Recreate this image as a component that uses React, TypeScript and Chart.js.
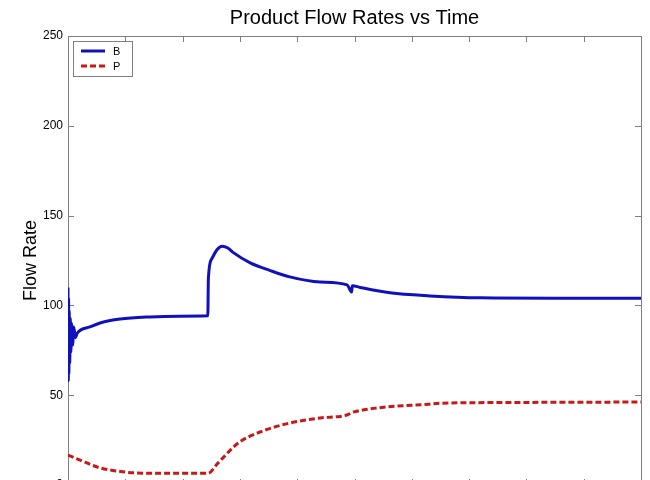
import React, { useEffect, useRef } from "react";
import { Chart, registerables } from "chart.js";

Chart.register(...registerables);

const FONT = "'Liberation Sans', Arial, Helvetica, sans-serif";

const chartTitle = "Product Flow Rates vs Time";
const yAxisTitle = "Flow Rate";
const xTickMin = 0;
const xTickMax = 10;
const xTickStep = 1;
const yTickMin = 0;
const yTickMax = 250;
const yTickStep = 50;

const seriesNames = ["B", "P"];

const timeB = [0, 0.005, 0.01, 0.015, 0.02, 0.03, 0.04, 0.05, 0.06, 0.08, 0.1, 0.13, 0.16, 0.38, 0.56, 0.91, 1.43, 1.95, 2.44, 2.45, 2.51, 2.6, 2.69, 2.79, 2.88, 3.18, 3.53, 3.87, 4.4, 4.87, 4.95, 4.96, 5.1, 5.62, 6.32, 7.19, 8.5, 10];
const flowB = [110, 58, 104, 62, 97, 68, 93, 74, 90, 78, 88, 82, 84.5, 88, 90.2, 92.4, 93.6, 94, 94.2, 115, 126, 131, 133, 132, 129.5, 123.7, 119.4, 115.9, 113, 111.4, 107.5, 111, 110, 107, 105.3, 104.2, 104, 104];

const timeP = [0, 0.2, 0.56, 0.85, 1.14, 1.72, 2.44, 2.62, 2.97, 3.35, 3.87, 4.4, 4.87, 4.97, 5.15, 5.57, 6.3, 6.49, 7.5, 10];
const flowP = [16.7, 14, 9.5, 7.8, 6.8, 6.5, 6.5, 12.3, 23.4, 29.5, 34.5, 37.3, 39, 40.5, 41.8, 43.5, 45, 45.5, 45.9, 46.2];

const colorB = "#1010bc";
const colorP = "#c81818";
const frameColor = "#808080";

const CANVAS_W = 650;
const CANVAS_H = 520;
const PLOT_LEFT = 68;
const PLOT_BOTTOM = 485;

const framePlugin = {
  id: "matlabFrame",
  beforeDatasetsDraw(chart: any) {
    const { ctx, chartArea } = chart;
    const { left, right, top, bottom } = chartArea;
    const xs = chart.scales.x;
    const ys = chart.scales.y;
    const tl = 6;
    ctx.save();
    ctx.strokeStyle = frameColor;
    ctx.lineWidth = 1;
    ctx.beginPath();
    ctx.rect(Math.round(left) + 0.5, Math.round(top) + 0.5, Math.round(right - left), Math.round(bottom - top));
    ctx.stroke();
    ctx.beginPath();
    xs.ticks.forEach((t: any) => {
      const px = Math.round(xs.getPixelForValue(t.value)) + 0.5;
      ctx.moveTo(px, bottom);
      ctx.lineTo(px, bottom - tl);
      ctx.moveTo(px, top);
      ctx.lineTo(px, top + tl);
    });
    ys.ticks.forEach((t: any) => {
      const py = Math.round(ys.getPixelForValue(t.value)) + 0.5;
      ctx.moveTo(left, py);
      ctx.lineTo(left + tl, py);
      ctx.moveTo(right, py);
      ctx.lineTo(right - tl, py);
    });
    ctx.stroke();
    ctx.restore();
  },
};

const legendPlugin = {
  id: "boxLegend",
  afterDatasetsDraw(chart: any) {
    const { ctx, chartArea } = chart;
    const x0 = chartArea.left + 5;
    const y0 = chartArea.top + 5;
    const w = 59;
    const h = 35;
    ctx.save();
    ctx.fillStyle = "#ffffff";
    ctx.fillRect(x0, y0, w, h);
    ctx.strokeStyle = frameColor;
    ctx.lineWidth = 1;
    ctx.strokeRect(x0 + 0.5, y0 + 0.5, w, h);
    ctx.font = `11px ${FONT}`;
    ctx.textBaseline = "middle";
    ctx.textAlign = "left";
    chart.data.datasets.forEach((ds: any, i: number) => {
      const ly = y0 + 10 + i * 15;
      ctx.beginPath();
      ctx.strokeStyle = ds.borderColor;
      ctx.lineWidth = ds.borderWidth;
      ctx.setLineDash(ds.borderDash || []);
      ctx.moveTo(x0 + 8, ly);
      ctx.lineTo(x0 + 32, ly);
      ctx.stroke();
      ctx.setLineDash([]);
      ctx.fillStyle = "#000";
      ctx.fillText(ds.label, x0 + 40, ly + 0.5);
    });
    ctx.restore();
  },
};

export default function App() {
  const ref = useRef<HTMLCanvasElement | null>(null);

  useEffect(() => {
    if (!ref.current) return;
    const chart = new Chart(ref.current, {
      type: "line",
      data: {
        datasets: [
          {
            label: seriesNames[0],
            data: timeB.map((t, i) => ({ x: t, y: flowB[i] })),
            borderColor: colorB,
            borderWidth: 3,
            pointRadius: 0,
            cubicInterpolationMode: "monotone",
            fill: false,
          },
          {
            label: seriesNames[1],
            data: timeP.map((t, i) => ({ x: t, y: flowP[i] })),
            borderColor: colorP,
            borderWidth: 3,
            borderDash: [6, 3],
            pointRadius: 0,
            cubicInterpolationMode: "monotone",
            fill: false,
          },
        ],
      },
      options: {
        responsive: false,
        animation: false,
        devicePixelRatio: 1,
        layout: { padding: { left: 0, right: 9, top: 0, bottom: 0 } },
        plugins: {
          legend: { display: false },
          tooltip: { enabled: false },
          title: {
            display: true,
            fullSize: false,
            text: chartTitle,
            color: "#000",
            font: { family: FONT, size: 20, weight: "normal" },
            padding: { top: 6, bottom: 6 },
          },
        },
        scales: {
          x: {
            type: "linear",
            min: xTickMin,
            max: xTickMax,
            ticks: { stepSize: xTickStep, color: "#000", font: { family: FONT, size: 12 }, padding: 5 },
            grid: { display: false, drawTicks: false },
            border: { display: false },
            afterFit: (s: any) => {
              s.height = CANVAS_H - PLOT_BOTTOM;
              s.paddingLeft = 0;
              s.paddingRight = 0;
            },
          },
          y: {
            type: "linear",
            min: yTickMin,
            max: yTickMax,
            ticks: { stepSize: yTickStep, color: "#000", font: { family: FONT, size: 12 }, padding: 5 },
            grid: { display: false, drawTicks: false },
            border: { display: false },
            title: {
              display: true,
              text: yAxisTitle,
              color: "#000",
              font: { family: FONT, size: 18 },
              padding: { top: 20, bottom: 0 },
            },
            afterFit: (s: any) => {
              s.width = PLOT_LEFT;
            },
          },
        },
      },
      plugins: [framePlugin, legendPlugin],
    } as any);
    return () => chart.destroy();
  }, []);

  return (
    <div
      style={{
        position: "fixed",
        left: 0,
        top: 0,
        width: CANVAS_W,
        height: 480,
        overflow: "hidden",
        background: "#fff",
      }}
    >
      <canvas ref={ref} width={CANVAS_W} height={CANVAS_H} style={{ display: "block" }} />
    </div>
  );
}
